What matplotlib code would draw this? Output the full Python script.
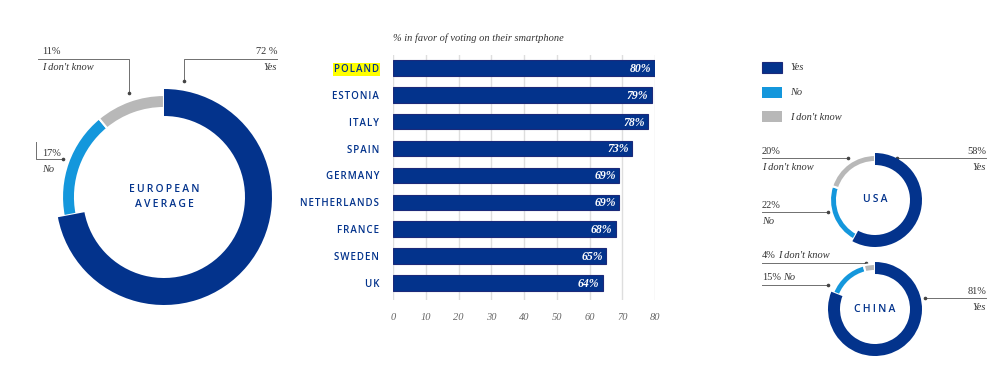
import numpy as np
import matplotlib
matplotlib.use("Agg")
import matplotlib.pyplot as plt
from matplotlib.patches import Rectangle

# data
answers = ["Yes", "No", "I don't know"]
eu_share = [72, 17, 11]
usa_share = [58, 22, 20]
china_share = [81, 15, 4]

countries = ["POLAND", "ESTONIA", "ITALY", "SPAIN", "GERMANY",
             "NETHERLANDS", "FRANCE", "SWEDEN", "UK"]
favor = [80, 79, 78, 73, 69, 69, 68, 65, 64]
x_ticks = [0, 10, 20, 30, 40, 50, 60, 70, 80]

NAVY = "#03338c"
LIGHT = "#1497dc"
GREY = "#b8b8b8"
TXT = "#333333"
COLORS = [NAVY, LIGHT, GREY]
SERIF = "Liberation Serif"
SANS = ["Open Sans", "DejaVu Sans"]

W, H = 1000, 386
fig = plt.figure(figsize=(W / 100, H / 100), dpi=100)

# overlay in pixel coordinates for labels and leader lines
ov = fig.add_axes([0, 0, 1, 1])
ov.set_xlim(0, W)
ov.set_ylim(H, 0)
ov.axis("off")


def spaced(s, gap="\u200a"):
    # rough letter tracking
    return "\n".join(gap.join(line) for line in s.split("\n"))


def donut(cx, cy, r_out, w_yes, r_small, w_small, values, title, fs):
    half = r_out + 4
    ax = fig.add_axes([(cx - half) / W, 1 - (cy + half) / H, 2 * half / W, 2 * half / H])
    # thin ring for No / I don't know
    ax.pie(values, radius=r_small, startangle=90, counterclock=False,
           colors=["none", COLORS[1], COLORS[2]],
           wedgeprops=dict(width=w_small, edgecolor="white", linewidth=1.5))
    # thicker Yes ring
    ax.pie(values, radius=r_out, startangle=90, counterclock=False,
           colors=[COLORS[0], "none", "none"],
           wedgeprops=dict(width=w_yes, edgecolor="none", linewidth=0))
    ax.set_xlim(-half, half)
    ax.set_ylim(-half, half)
    ax.set_aspect("equal")
    ax.axis("off")
    ax.text(0, 0, spaced(title, "\u2009"), ha="center", va="center", color=NAVY,
            fontsize=fs, family=SANS, fontweight="semibold", linespacing=1.45)


def leader(pts, dot=True):
    xs, ys = zip(*pts)
    ov.plot(xs, ys, color="#6f6f6f", lw=0.7)
    if dot:
        ov.plot(xs[-1], ys[-1], "o", color="#444444", ms=1.6)


def lab(x, y, s, ha="left", italic=False, size=7.5):
    return ov.text(x, y, s, ha=ha, va="center", fontsize=size, family=SERIF,
                   style="italic" if italic else "normal", color=TXT)


def lab_pair(x, y, pct, name):
    t = lab(x, y, pct)
    ov.annotate(name, xy=(1, 0.5), xycoords=t, xytext=(1.5, 0),
                textcoords="offset points", ha="left", va="center",
                fontsize=7.5, family=SERIF, style="italic", color=TXT)


# European average donut
donut(164, 197, 108, 27, 102, 13, eu_share, "EUROPEAN\nAVERAGE", 7.5)
lab(277, 52, f"{eu_share[0]} %", ha="right")
lab(277, 68, answers[0], ha="right", italic=True)
leader([(277, 59), (184, 59), (184, 81)])
lab(42, 52, f"{eu_share[2]}%")
lab(42, 68, answers[2], italic=True)
leader([(38, 59), (129, 59), (129, 93)])
lab(42, 154, f"{eu_share[1]}%")
lab(42, 170, answers[1], italic=True)
leader([(36, 142), (36, 159), (63, 159)])

# bar chart
bx0, bx1, by0, by1 = 393, 655, 55, 300
bax = fig.add_axes([bx0 / W, 1 - by1 / H, (bx1 - bx0) / W, (by1 - by0) / H])
ypos = np.arange(len(countries))
bax.barh(ypos, favor, height=0.58, color=NAVY, edgecolor="#1c2a7a",
         linewidth=0.8, zorder=3)
bax.set_xlim(0, 80)
bax.set_ylim(8.63, -0.48)
bax.set_xticks(x_ticks)
bax.set_xticklabels([str(t) for t in x_ticks], family=SERIF, style="italic",
                    fontsize=7.5, color="#666666")
bax.tick_params(axis="x", length=0, pad=9)
bax.tick_params(axis="y", length=0, pad=10)
bax.set_yticks(ypos)
bax.set_yticklabels([spaced(c) for c in countries], family=SANS,
                    fontweight="semibold", fontsize=7, color=NAVY)
bax.get_yticklabels()[0].set_bbox(dict(facecolor="#ffff00", edgecolor="none", pad=0.6))
bax.grid(axis="x", color="#dedede", lw=1, zorder=0)
for s in bax.spines.values():
    s.set_visible(False)
for y, v in zip(ypos, favor):
    bax.text(v - 1, y + 0.03, f"{v}%", ha="right", va="center", color="white",
             fontsize=8.5, family=SERIF, style="italic", fontweight="bold", zorder=4)
bax.text(0, -1.11, "% in favor of voting on their smartphone", ha="left",
         va="center", family=SERIF, style="italic", fontsize=7.5, color=TXT)

# legend
for i, (name, c) in enumerate(zip(answers, COLORS)):
    y = 62 + i * 24.5
    ov.add_patch(Rectangle((762, y), 20, 11, facecolor=c,
                           edgecolor="#1c2a7a" if i == 0 else "none", lw=0.8))
    lab(790, y + 6, name, italic=True)

# USA donut
donut(875, 200, 47, 12, 45, 7, usa_share, "USA", 7.5)
lab(762, 152, f"{usa_share[2]}%")
lab(762, 167, answers[2], italic=True)
leader([(762, 158), (848, 158)])
lab(986, 152, f"{usa_share[0]}%", ha="right")
lab(986, 167, answers[0], ha="right", italic=True)
leader([(986, 158), (897, 158)])
lab(762, 206, f"{usa_share[1]}%")
lab(762, 221, answers[1], italic=True)
leader([(762, 212), (828, 212)])

# China donut
donut(875, 309, 47, 12, 45, 7, china_share, "CHINA", 7.5)
lab_pair(762, 256, f"{china_share[2]}%", answers[2])
leader([(762, 263), (866, 263)])
lab_pair(762, 278, f"{china_share[1]}%", answers[1])
leader([(762, 285), (828, 285)])
lab(986, 292, f"{china_share[0]}%", ha="right")
lab(986, 308, answers[0], ha="right", italic=True)
leader([(986, 298), (925, 298)])

fig.savefig("out.png", dpi=100, facecolor="white")
